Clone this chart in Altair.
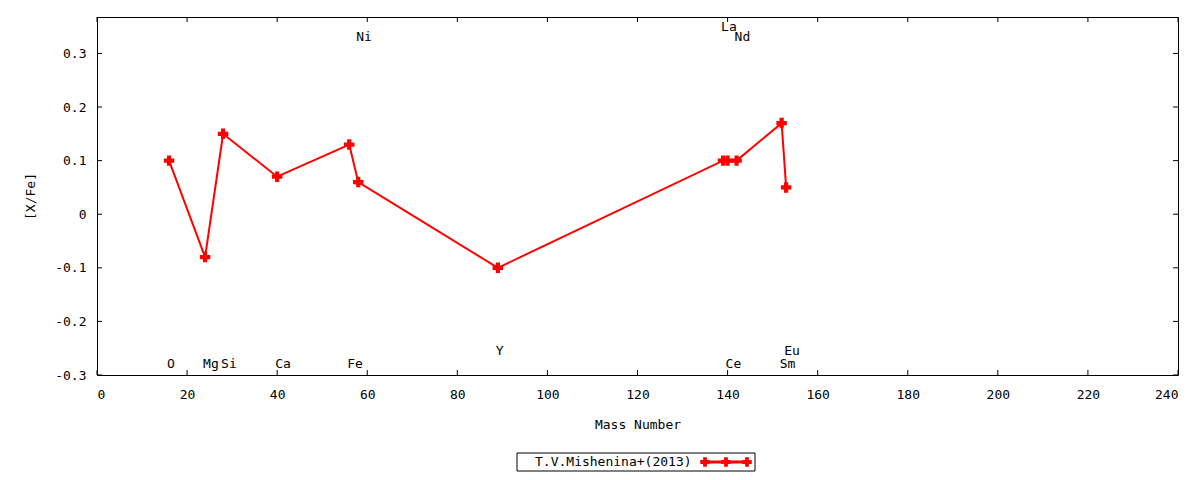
import altair as alt
import pandas as pd

# ---- data ----
elements = ["O", "Mg", "Si", "Ca", "Fe", "Ni", "Y", "La", "Ce", "Nd", "Sm", "Eu"]
mass = [16, 24, 28, 40, 56, 58, 89, 139, 140, 142, 152, 153]
xfe = [0.10, -0.08, 0.15, 0.07, 0.13, 0.06, -0.10, 0.10, 0.10, 0.10, 0.17, 0.05]
label_y = [-0.28, -0.28, -0.28, -0.28, -0.28, 0.33, -0.255, 0.35, -0.28, 0.33, -0.28, -0.255]
x_ticks = [0, 20, 40, 60, 80, 100, 120, 140, 160, 180, 200, 220, 240]
y_ticks = [-0.3, -0.2, -0.1, 0, 0.1, 0.2, 0.3]
series_name = ["T.V.Mishenina+(2013)"]

W, H = 1081, 358
FONT = "DejaVu Sans Mono"
FS = 13
RED = "#ff0000"

df = pd.DataFrame({"element": elements, "mass": mass, "xfe": xfe, "label_y": label_y})
xt_df = pd.DataFrame({"mass": x_ticks})
yt_df = pd.DataFrame({"xfe": y_ticks})
leg_df = pd.DataFrame({"name": series_name})

xs = alt.Scale(domain=[0, 240], nice=False, zero=False)
ys = alt.Scale(domain=[-0.3, 0.368], nice=False, zero=False)

x_axis = alt.Axis(values=x_ticks, title="Mass Number", labelPadding=13, titlePadding=17)
y_axis = alt.Axis(values=y_ticks, title="[X/Fe]", labelPadding=11, titlePadding=17,
                  labelExpr="replace(format(datum.value, '.1~f'), '\u2212', '-')")

X = alt.X("mass:Q", scale=xs, axis=x_axis)
Y = alt.Y("xfe:Q", scale=ys, axis=y_axis)

line = alt.Chart(df).mark_line(color=RED, strokeWidth=2).encode(x=X, y=Y, order="mass:Q")
pts = alt.Chart(df).mark_point(shape="cross", filled=True, size=110, color=RED, opacity=1).encode(x=X, y=Y)
labels = alt.Chart(df).mark_text(align="left", baseline="middle", dx=-2, font=FONT, fontSize=FS,
                                 color="black").encode(
    x=X, y=alt.Y("label_y:Q", scale=ys, axis=y_axis), text="element:N")

TL = 5
xt_bot = alt.Chart(xt_df).mark_rule(color="black", strokeWidth=1).encode(x=X, y=alt.value(H), y2=alt.value(H - TL))
xt_top = alt.Chart(xt_df).mark_rule(color="black", strokeWidth=1).encode(x=X, y=alt.value(0), y2=alt.value(TL))
yt_left = alt.Chart(yt_df).mark_rule(color="black", strokeWidth=1).encode(y=Y, x=alt.value(0), x2=alt.value(TL))
yt_right = alt.Chart(yt_df).mark_rule(color="black", strokeWidth=1).encode(y=Y, x=alt.value(W), x2=alt.value(W - TL))

# ---- legend (below plot) ----
LY = 445
leg_box = alt.Chart(leg_df).mark_rect(fill="white", stroke="black", strokeWidth=1).encode(
    x=alt.value(420), x2=alt.value(658), y=alt.value(LY - 9), y2=alt.value(LY + 9))
leg_text = alt.Chart(leg_df).mark_text(align="left", baseline="middle", font=FONT, fontSize=FS,
                                       color="black").encode(
    x=alt.value(438), y=alt.value(LY), text="name:N")
leg_line = alt.Chart(leg_df).mark_rule(color=RED, strokeWidth=3).encode(
    x=alt.value(608), x2=alt.value(650), y=alt.value(LY))
leg_pts = [
    alt.Chart(leg_df).mark_point(shape="cross", filled=True, size=90, color=RED, opacity=1).encode(
        x=alt.value(px), y=alt.value(LY))
    for px in (608, 629, 650)
]

chart = alt.layer(
    xt_bot, xt_top, yt_left, yt_right, line, pts, labels, leg_box, leg_text, leg_line, *leg_pts
).properties(
    width=W, height=H,
    autosize=alt.AutoSizeParams(type="none"),
    padding={"left": 89, "top": 9, "right": 14, "bottom": 97},
).configure_view(stroke="black", strokeWidth=1).configure_axis(
    domain=False, ticks=False, tickSize=0, grid=False,
    labelFont=FONT, labelFontSize=FS, labelColor="black",
    titleFont=FONT, titleFontSize=FS, titleFontWeight="normal", titleColor="black",
)

chart.save("out.html", embed_options={"renderer": "svg", "actions": False})
